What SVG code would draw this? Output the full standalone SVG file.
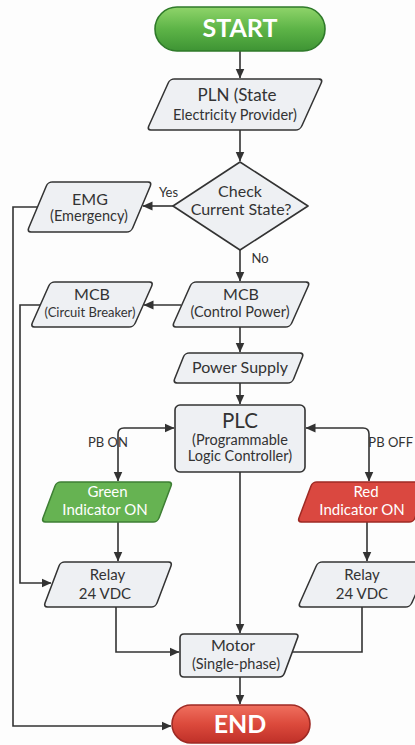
<svg xmlns="http://www.w3.org/2000/svg" width="415" height="745" viewBox="0 0 415 745">
<defs>
<linearGradient id="gStart" x1="0" y1="0" x2="0" y2="1">
<stop offset="0" stop-color="#8fd46a"/>
<stop offset="0.5" stop-color="#5db447"/>
<stop offset="1" stop-color="#3e9434"/>
</linearGradient>
<linearGradient id="gEnd" x1="0" y1="0" x2="0" y2="1">
<stop offset="0" stop-color="#f0705f"/>
<stop offset="0.5" stop-color="#dc4a3c"/>
<stop offset="1" stop-color="#bf3028"/>
</linearGradient>
<marker id="arr" viewBox="0 0 10 10" refX="9.5" refY="5" markerWidth="10" markerHeight="10" markerUnits="userSpaceOnUse" orient="auto-start-reverse">
<path d="M0,0.5 L10,5 L0,9.5 Z" fill="#333"/>
</marker>
<style>
.n{fill:#eef0f3;stroke:#333;stroke-width:1.6}
.t{font-family:Lato,"Open Sans",sans-serif;fill:#333;text-anchor:middle}
.h{font-size:16px}
.s{font-size:14.5px}
.r{font-size:15px}
.c{fill:none;stroke:#333;stroke-width:1.6}
.w{font-family:Lato,"Open Sans",sans-serif;fill:#fff;text-anchor:middle}
.l{font-family:Lato,"Open Sans",sans-serif;fill:#333;font-size:13px}
</style>
</defs>
<rect width="415" height="745" fill="#fdfdfd"/>

<g id="connectors">
<line class="c" x1="240" y1="51" x2="240" y2="78" marker-end="url(#arr)"/>
<line class="c" x1="240" y1="130" x2="240" y2="161" marker-end="url(#arr)"/>
<line class="c" x1="173" y1="206" x2="143" y2="206" marker-end="url(#arr)"/>
<line class="c" x1="240" y1="250" x2="240" y2="281" marker-end="url(#arr)"/>
<line class="c" x1="181" y1="305" x2="144" y2="305" marker-end="url(#arr)"/>
<line class="c" x1="240" y1="327" x2="240" y2="352" marker-end="url(#arr)"/>
<line class="c" x1="240" y1="383" x2="240" y2="404" marker-end="url(#arr)"/>
<path class="c" d="M174,428 H124 Q118,428 118,434 V481" marker-start="url(#arr)" marker-end="url(#arr)"/>
<path class="c" d="M306,428 H363 Q369,428 369,434 V481" marker-start="url(#arr)" marker-end="url(#arr)"/>
<line class="c" x1="118" y1="522" x2="118" y2="561" marker-end="url(#arr)"/>
<line class="c" x1="367" y1="522" x2="367" y2="561" marker-end="url(#arr)"/>
<path class="c" d="M38,207 H13 V726 H171" marker-end="url(#arr)"/>
<path class="c" d="M40,305 H20 V583 H51" marker-end="url(#arr)"/>
<path class="c" d="M116,607 V652 H179" marker-end="url(#arr)"/>
<line class="c" x1="240" y1="472" x2="240" y2="633" marker-end="url(#arr)"/>
<path class="c" d="M362,607 V652 H292"/>
<line class="c" x1="240" y1="677" x2="240" y2="704" marker-end="url(#arr)"/>
<text class="l" x="168.5" y="197" text-anchor="middle" font-size="13.5">Yes</text>
<text class="l" x="260" y="263" text-anchor="middle" font-size="13.5">No</text>
<text class="l" x="108" y="447" text-anchor="middle">PB ON</text>
<text class="l" x="413" y="447" text-anchor="end" font-size="12">PB OFF</text>
</g>

<g id="start">
<rect x="155" y="7" width="170" height="44" rx="22" fill="url(#gStart)" stroke="#2f7a2a" stroke-width="1.6"/>
<text class="w" x="240" y="37" font-size="25" font-weight="bold">START</text>
</g>

<g id="pln">
<rect class="n" x="-76.5" y="-25.5" width="153" height="51" rx="4" transform="translate(235,104.5) skewX(-24.3)"/>
<text class="t" x="237" y="101" font-size="17">PLN (State</text>
<text class="t s" x="235" y="120">Electricity Provider)</text>
</g>

<g id="check">
<polygon class="n" points="240,162 308,206 240,250 173,206" stroke-linejoin="round"/>
<text class="t h" x="240" y="197">Check</text>
<text class="t h" x="241" y="215">Current State?</text>
</g>

<g id="emg">
<rect class="n" x="-52" y="-25" width="104" height="50" rx="4" transform="translate(89.5,207) skewX(-22.8)"/>
<text class="t h" x="90" y="205">EMG</text>
<text class="t s" x="89" y="221">(Emergency)</text>
</g>

<g id="mcb-control">
<rect class="n" x="-59" y="-22.5" width="118" height="45" rx="4" transform="translate(241,304.5) skewX(-24)"/>
<text class="t h" x="241" y="300">MCB</text>
<text class="t s" x="240" y="317">(Control Power)</text>
</g>

<g id="mcb-breaker">
<rect class="n" x="-51.5" y="-22.5" width="103" height="45" rx="4" transform="translate(92,304.5) skewX(-24)"/>
<text class="t h" x="92" y="300">MCB</text>
<text class="t" x="90" y="317" font-size="13">(Circuit Breaker)</text>
</g>

<g id="power-supply">
<rect class="n" x="-59.5" y="-15" width="119" height="30" rx="4" transform="translate(238.5,368) skewX(-21.8)"/>
<text class="t h" x="240" y="373">Power Supply</text>
</g>

<g id="plc">
<rect class="n" x="175" y="405" width="130" height="67" rx="5"/>
<text class="t" x="240" y="428" font-size="20.5">PLC</text>
<text class="t s" x="240" y="445">(Programmable</text>
<text class="t s" x="240" y="461">Logic Controller)</text>
</g>

<g id="green">
<rect x="-58" y="-20" width="116" height="40" rx="4" transform="translate(107,502) skewX(-20.6)" fill="#66b352" stroke="#3e7f34" stroke-width="1.6"/>
<text class="w" x="107.5" y="497" font-size="15">Green</text>
<text class="w" x="105" y="515" font-size="15">Indicator ON</text>
</g>

<g id="red">
<rect x="-58" y="-20" width="116" height="40" rx="4" transform="translate(363,502) skewX(-20.6)" fill="#da4840" stroke="#9e2a24" stroke-width="1.6"/>
<text class="w" x="366" y="497" font-size="15">Red</text>
<text class="w" x="362" y="515" font-size="15">Indicator ON</text>
</g>

<g id="relay-left">
<rect class="n" x="-56" y="-22.5" width="112" height="45" rx="4" transform="translate(108,584.5) skewX(-20.7)"/>
<text class="t r" x="107.5" y="580">Relay</text>
<text class="t r" x="105" y="599">24 VDC</text>
</g>

<g id="relay-right">
<rect class="n" x="-56" y="-22.5" width="112" height="45" rx="4" transform="translate(364,584.5) skewX(-24)"/>
<text class="t r" x="362" y="580">Relay</text>
<text class="t r" x="362" y="599">24 VDC</text>
</g>

<g id="motor">
<path class="n" d="M184,634 H295 Q299,634 297.6,637.75 L284.4,673.25 Q283,677 279,677 H184 Q180,677 180,673 V638 Q180,634 184,634 Z"/>
<text class="t h" x="233" y="651">Motor</text>
<text class="t s" x="236" y="669">(Single-phase)</text>
</g>

<g id="end">
<rect x="172" y="705" width="138" height="38" rx="19" fill="url(#gEnd)" stroke="#9e2a24" stroke-width="1.6"/>
<text class="w" x="240" y="733" font-size="25" font-weight="bold">END</text>
</g>
</svg>
